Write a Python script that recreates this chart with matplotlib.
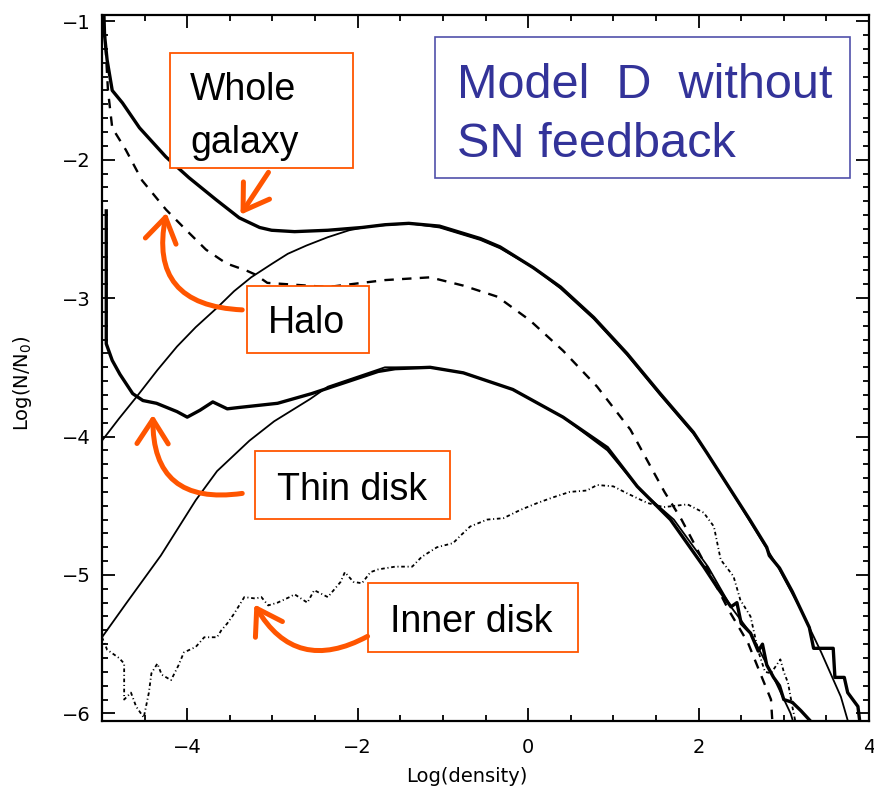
import matplotlib
matplotlib.use("Agg")
import matplotlib.pyplot as plt
from matplotlib.patches import Rectangle, FancyArrowPatch
from matplotlib.ticker import MultipleLocator

# whole galaxy (thick solid histogram)
whole_x = [-4.98, -4.97, -4.94, -4.88, -4.76, -4.56, -4.25, -3.98, -3.66, -3.39, -3.15,
           -3.01, -2.74, -2.35, -1.95, -1.68, -1.4, -1.04, -0.56, -0.33, 0.06, 0.38,
           0.77, 1.16, 1.55, 1.94, 2.1, 2.35, 2.6, 2.8, 2.83, 2.95, 3.1, 3.2, 3.3,
           3.35, 3.58, 3.6, 3.71, 3.75, 3.87, 3.9]
whole_y = [-0.9, -1.1, -1.28, -1.5, -1.59, -1.77, -1.98, -2.13, -2.29, -2.42, -2.49,
           -2.51, -2.52, -2.51, -2.49, -2.47, -2.46, -2.48, -2.57, -2.63, -2.78, -2.92,
           -3.14, -3.4, -3.69, -3.97, -4.12, -4.36, -4.6, -4.8, -4.86, -4.95, -5.12,
           -5.25, -5.38, -5.53, -5.53, -5.74, -5.74, -5.85, -5.95, -6.1]

# log-normal fit to the whole galaxy (thin solid)
fitw_x = [-5.0, -4.8, -4.59, -4.35, -4.12, -3.9, -3.65, -3.45, -3.25, -3.0, -2.82,
          -2.6, -2.35, -2.1, -1.84, -1.6, -1.4, -1.04, -0.56, -0.33, 0.06, 0.38, 0.77,
          1.16, 1.55, 1.94, 2.1, 2.49, 2.93, 3.2, 3.44, 3.67, 3.75]
fitw_y = [-4.03, -3.87, -3.71, -3.52, -3.35, -3.21, -3.07, -2.95, -2.85, -2.75, -2.68,
          -2.62, -2.56, -2.51, -2.48, -2.47, -2.46, -2.49, -2.58, -2.64, -2.78, -2.93,
          -3.15, -3.41, -3.7, -3.98, -4.12, -4.5, -4.94, -5.25, -5.56, -5.88, -6.05]

# halo (dashed)
halo_x = [-4.97, -4.93, -4.88, -4.72, -4.53, -4.25, -4.01, -3.78, -3.54, -3.31, -3.2,
          -3.06, -2.35, -1.68, -1.15, -0.76, -0.36, 0.02, 0.41, 0.81, 1.2, 1.44, 1.6,
          1.8, 2.1, 2.35, 2.58, 2.75, 2.85, 2.87]
halo_y = [-1.05, -1.5, -1.77, -1.93, -2.15, -2.36, -2.51, -2.65, -2.75, -2.8, -2.83,
          -2.89, -2.92, -2.87, -2.85, -2.91, -2.99, -3.16, -3.38, -3.64, -3.95, -4.22,
          -4.4, -4.6, -4.95, -5.25, -5.49, -5.75, -5.9, -6.1]

# thin disk (thick solid histogram)
thin_x = [-4.95, -4.95, -4.88, -4.79, -4.64, -4.52, -4.36, -4.12, -4.0, -3.85, -3.7,
          -3.53, -3.39, -2.94, -2.54, -2.15, -1.76, -1.56, -1.15, -0.76, -0.18, 0.41,
          0.93, 1.28, 1.67, 2.06, 2.22, 2.38, 2.45, 2.5, 2.61, 2.7, 2.75, 2.8, 2.88,
          2.95, 3.0, 3.1, 3.2, 3.35]
thin_y = [-2.37, -3.33, -3.45, -3.55, -3.69, -3.74, -3.76, -3.82, -3.86, -3.81, -3.75,
          -3.8, -3.79, -3.76, -3.69, -3.61, -3.53, -3.51, -3.5, -3.54, -3.66, -3.86,
          -4.08, -4.36, -4.6, -4.94, -5.09, -5.23, -5.2, -5.35, -5.42, -5.55, -5.5,
          -5.65, -5.74, -5.8, -5.9, -5.92, -5.98, -6.08]

# log-normal fit to the thin disk (thin solid)
fitt_x = [-5.0, -4.71, -4.31, -3.9, -3.65, -3.27, -2.98, -2.56, -2.35, -1.68, -1.15,
          -0.76, -0.18, 0.41, 0.93, 1.32, 1.71, 2.11, 2.38, 2.61, 2.88, 3.08, 3.12]
fitt_y = [-5.45, -5.2, -4.86, -4.46, -4.25, -4.03, -3.89, -3.73, -3.64, -3.5, -3.5,
          -3.54, -3.66, -3.86, -4.1, -4.39, -4.6, -4.94, -5.23, -5.42, -5.74, -6.0,
          -6.08]

# inner disk (dash-dot histogram)
inner_x = [-5.0, -4.94, -4.8, -4.74, -4.74, -4.66, -4.6, -4.51, -4.45, -4.42, -4.35,
           -4.3, -4.19, -4.1, -4.04, -3.9, -3.8, -3.65, -3.6, -3.53, -3.45, -3.33,
           -3.2, -3.13, -3.05, -2.94, -2.8, -2.74, -2.59, -2.51, -2.35, -2.2, -2.15,
           -2.05, -1.95, -1.85, -1.76, -1.56, -1.36, -1.25, -1.07, -0.88, -0.8, -0.68,
           -0.48, -0.29, -0.09, 0.11, 0.29, 0.49, 0.69, 0.81, 1.0, 1.16, 1.4, 1.59,
           1.87, 2.06, 2.18, 2.26, 2.41, 2.49, 2.61, 2.7, 2.78, 2.85, 2.96, 3.0, 3.05,
           3.1, 3.15]
inner_y = [-5.45, -5.54, -5.6, -5.64, -5.9, -5.85, -5.95, -6.03, -5.85, -5.71, -5.64,
           -5.72, -5.76, -5.65, -5.56, -5.52, -5.45, -5.45, -5.4, -5.35, -5.28, -5.16,
           -5.17, -5.16, -5.22, -5.2, -5.16, -5.14, -5.2, -5.11, -5.16, -5.05, -4.98,
           -5.05, -5.06, -4.98, -4.96, -4.94, -4.94, -4.87, -4.8, -4.77, -4.72, -4.65,
           -4.6, -4.59, -4.53, -4.48, -4.44, -4.4, -4.39, -4.35, -4.36, -4.41, -4.48,
           -4.51, -4.49, -4.55, -4.65, -4.89, -5.01, -5.18, -5.3, -5.55, -5.7, -5.71,
           -5.61, -5.7, -5.78, -5.95, -6.1]

W, H = 874, 797
ORANGE = "#ff5500"
BLUE = "#333399"

fig = plt.figure(figsize=(W / 100, H / 100), dpi=100)
ax = fig.add_axes([102 / W, 1 - 721 / H, 767 / W, 706 / H])

ax.plot(fitw_x, fitw_y, color="black", lw=1.3)
ax.plot(fitt_x, fitt_y, color="black", lw=1.3)
ax.plot(whole_x, whole_y, color="black", lw=2.4)
ax.plot(thin_x, thin_y, color="black", lw=2.4)
ax.plot(halo_x, halo_y, color="black", lw=1.7, linestyle=(0, (4, 3.5)))
ax.plot(inner_x, inner_y, color="black", lw=1.3, linestyle=(0, (2, 1.5, 0.6, 1.5)))

ax.set_xlim(-5, 4)
ax.set_ylim(-6.055, -0.955)
ax.xaxis.set_major_locator(MultipleLocator(2))
ax.xaxis.set_minor_locator(MultipleLocator(0.5))
ax.yaxis.set_major_locator(MultipleLocator(1))
ax.yaxis.set_minor_locator(MultipleLocator(0.1))
ax.tick_params(which="both", direction="in", top=True, right=True, width=1.3)
ax.tick_params(which="major", length=9.5)
ax.tick_params(which="minor", length=4.5)
ax.tick_params(axis="x", pad=12, labelsize=14)
ax.tick_params(axis="y", pad=8, labelsize=14)
for s in ax.spines.values():
    s.set_linewidth(1.6)

ax.set_xlabel("Log(density)", fontsize=14)
ax.xaxis.set_label_coords(0.476, -0.065)
ax.set_ylabel("Log(N/N$_0$)", fontsize=14)
ax.yaxis.label.set_va("center")
ax.yaxis.set_label_coords(-0.104, 0.479)


def fpos(px, py):
    return (px / W, 1 - py / H)


def box(x0, y0, x1, y1, color, lw):
    fig.patches.append(Rectangle(fpos(x0, y1), (x1 - x0) / W, (y1 - y0) / H,
                                 transform=fig.transFigure, facecolor="white",
                                 edgecolor=color, lw=lw, zorder=5))


def label(px, py, s, color="black", size=27):
    fig.text(px / W, 1 - py / H, s, color=color, fontsize=size,
             family="Liberation Sans", ha="left", va="baseline", zorder=6)


def arrow(start, end, rad):
    fig.patches.append(FancyArrowPatch(fpos(*start), fpos(*end),
                                       transform=fig.transFigure,
                                       connectionstyle=f"arc3,rad={rad}",
                                       arrowstyle="->,head_length=0.7,head_width=0.45",
                                       mutation_scale=25, color=ORANGE, lw=3.6,
                                       capstyle="round", joinstyle="round", zorder=7))


box(170, 53, 353, 168, ORANGE, 1.3)
label(190, 100, "Whole")
label(190, 153, "galaxy")
box(247, 286, 369, 353, ORANGE, 1.3)
label(268, 333, "Halo")
box(255, 451, 450, 519, ORANGE, 1.3)
label(277, 500, "Thin disk")
box(368, 583, 578, 652, ORANGE, 1.3)
label(390, 632, "Inner disk")

box(435, 37, 850, 178, "#5050aa", 1.2)
label(457, 98, "Model  D  without", color=BLUE, size=35)
label(457, 157, "SN feedback", color=BLUE, size=35)

arrow((270, 170), (239, 217), 0.0)
arrow((245, 310), (167, 210), -0.6)
arrow((245, 493), (153, 412), -0.6)
arrow((370, 635), (253, 602), -0.5)

fig.savefig("out.png", dpi=100, facecolor="white")
